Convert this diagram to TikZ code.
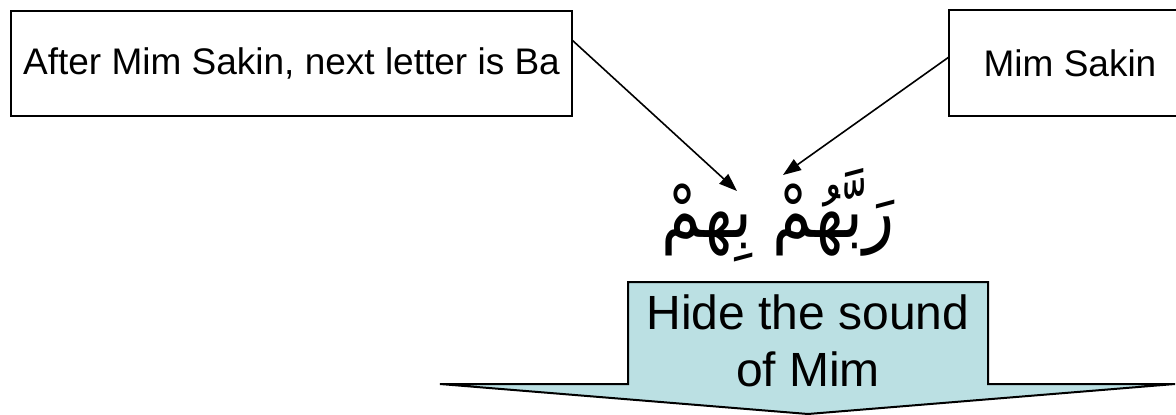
\documentclass[tikz,border=0pt]{standalone}
\usepackage{fontspec}
\setmainfont{Liberation Sans}
\newfontfamily\arabicfont[Script=Arabic]{DejaVu Sans}
\TeXXeTstate=1
\usetikzlibrary{arrows.meta,calc}
\definecolor{hidefill}{RGB}{187,224,227}
\begin{document}
\begin{tikzpicture}[x=1pt,y=-1pt,
  labelbox/.style={draw=black, line width=2pt, fill=white, inner sep=0pt, outer sep=0pt,
    font=\fontsize{37}{44}\selectfont},
  pointer/.style={-{Triangle[length=18pt,width=13pt]}, line width=1.6pt},
  hideshape/.style={draw=black, line width=2pt, fill=hidefill, line join=miter},
  hidetext/.style={font=\fontsize{48}{57}\selectfont, align=center, inner sep=0pt},
  ayahtext/.style={font=\arabicfont\fontsize{70}{76}\selectfont, inner sep=0pt}]
\useasboundingbox (0,0) rectangle (1176,415);
\clip (0,0) rectangle (1176,415);
% label boxes
\node[labelbox, minimum width=561pt, minimum height=105pt] (cond) at (291.5,63.5) {After Mim Sakin, next letter is Ba};
\node[labelbox, minimum width=242pt, minimum height=106pt] (mim) at (1070,63) {Mim Sakin};
% arabic text
\node[ayahtext] (ayah) at (778,215) {\scalebox{0.92}[1.1]{\beginR رَبَّهُمْ بِهمْ\endR}};
\coordinate (baTip) at (737,191);
\coordinate (mimTip) at (783,175);
% pointers
\draw[pointer] ($(cond.north east)!0.276!(cond.south east)$) -- (baTip);
\draw[pointer] ($(mim.north west)!0.443!(mim.south west)$) -- (mimTip);
% down arrow callout
\draw[hideshape] (628,282) -- (988,282) -- (988,384) -- (1175,384) -- (808,414) -- (440,384) -- (628,384) -- cycle;
\node[hidetext] (hide) at (808,341) {Hide the sound\\of Mim};
\end{tikzpicture}
\end{document}
